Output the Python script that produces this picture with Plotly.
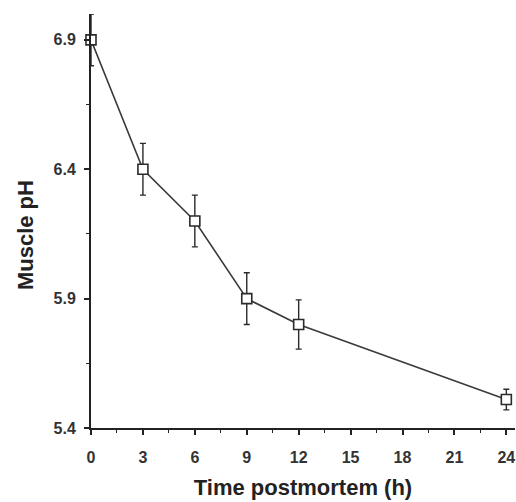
import plotly.graph_objects as go

time_h = [0, 3, 6, 9, 12, 24]
ph_mean = [6.90, 6.40, 6.20, 5.90, 5.80, 5.51]
ph_err = [0.10, 0.10, 0.10, 0.10, 0.095, 0.04]
x_ticks = [0, 3, 6, 9, 12, 15, 18, 21, 24]
y_ticks = [5.4, 5.9, 6.4, 6.9]

fig = go.Figure()
fig.add_trace(go.Scatter(
    x=time_h, y=ph_mean,
    mode="lines+markers",
    cliponaxis=False,
    line=dict(color="#3a3a3a", width=1.6),
    marker=dict(symbol="square", size=10, color="white",
                line=dict(color="#2a2a2a", width=1.6)),
    error_y=dict(type="data", array=ph_err, visible=True,
                 color="#2a2a2a", thickness=1.4, width=3),
    showlegend=False,
))

font_family = "Liberation Sans, Arial, sans-serif"
fig.update_layout(
    width=516, height=502,
    margin=dict(l=91, r=1, t=14, b=74),
    paper_bgcolor="white", plot_bgcolor="white",
    font=dict(family=font_family, color="#222"),
    xaxis=dict(
        range=[0, 24.5], tickvals=x_ticks, ticktext=[str(v) for v in x_ticks],
        showgrid=False, zeroline=False, showline=True,
        linecolor="#222", linewidth=2,
        ticks="outside", ticklen=5, tickwidth=1.5, tickcolor="#222",
        ticklabelstandoff=9,
        tickfont=dict(size=16, family=font_family, weight="bold", color="#333"),
        minor=dict(tickvals=[1.5, 4.5, 7.5, 10.5, 13.5, 16.5, 19.5, 22.5],
                   ticks="outside", ticklen=3, tickwidth=1.2, tickcolor="#222"),
        title=dict(text="Time postmortem (h)", standoff=14,
                   font=dict(size=22, family=font_family, weight="bold", color="#222")),
    ),
    yaxis=dict(
        range=[5.4, 7.0], tickvals=y_ticks, ticktext=["5.4", "5.9", "6.4", "6.9"],
        showgrid=False, zeroline=False, showline=True,
        linecolor="#222", linewidth=2,
        ticks="outside", ticklen=5, tickwidth=1.5, tickcolor="#222",
        ticklabelstandoff=5,
        tickfont=dict(size=16, family=font_family, weight="bold", color="#333"),
        minor=dict(tickvals=[5.65, 6.15, 6.65],
                   ticks="outside", ticklen=3, tickwidth=1.2, tickcolor="#222"),
    ),
    annotations=[dict(
        text="Muscle pH", textangle=-90, showarrow=False,
        xref="paper", yref="paper", x=0, y=0.466,
        xanchor="center", yanchor="middle", xshift=-66,
        font=dict(size=22, family=font_family, weight="bold", color="#222"),
    )],
)
fig.write_html("out.html", config={"displayModeBar": False},
               post_script="document.body.style.margin='0';")
